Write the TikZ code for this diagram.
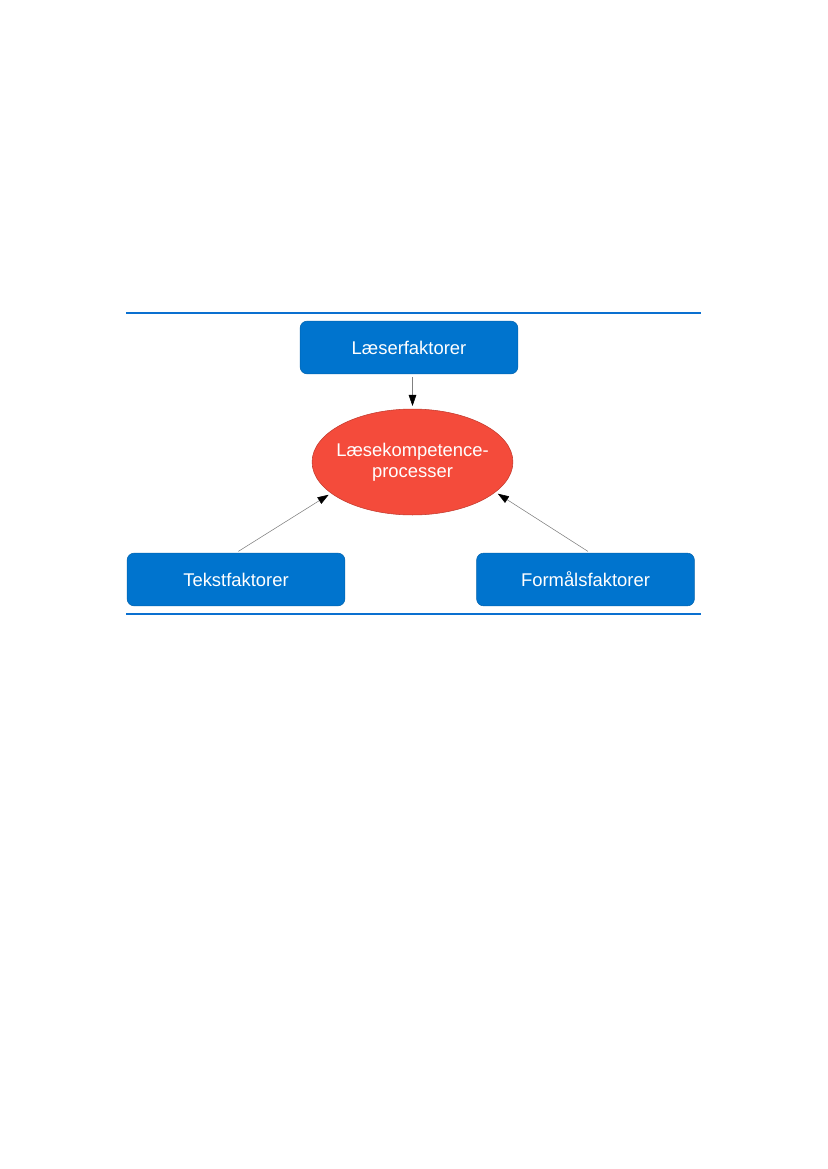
\documentclass[tikz,border=0pt]{standalone}
\usepackage{fontspec}
\setsansfont{Liberation Sans}
\usetikzlibrary{positioning,arrows.meta,shapes.geometric}
\definecolor{boxblue}{RGB}{0,116,206}
\definecolor{lineblue}{RGB}{10,112,208}
\definecolor{procred}{RGB}{244,75,59}

\begin{document}
\begin{tikzpicture}[x=0.2539mm,y=-0.2539mm,
  faktor/.style={draw=boxblue!85!black,line width=0.4pt,fill=boxblue,rounded corners=1.8mm,
    minimum width=55.3mm,minimum height=13.4mm,inner sep=0pt,text=white,
    font=\sffamily\fontsize{13.3}{15.5}\selectfont},
  proces/.style={ellipse,draw=procred!80!black,line width=0.4pt,fill=procred,
    minimum width=51mm,minimum height=26.9mm,inner ysep=0pt,inner xsep=-1.4mm,
    align=center,text=white,font=\sffamily\fontsize{13.3}{15.5}\selectfont},
  pil/.style={draw=gray,line width=0.4pt,-{Triangle[length=8pt,width=5.5pt,color=black]},
    shorten <=2pt,shorten >=2pt}]
\useasboundingbox (0,0) rectangle (827,1169);
% frame lines
\foreach \y in {313,614} {\draw[lineblue,line width=1.5pt] (126,\y) -- (701,\y);}
% nodes
\node[proces] (laese) at (412.5,462) {Læsekompetence-\\processer};
\node[faktor] (laeser) at (409,347.5) {Læserfaktorer};
\node[faktor] (tekst) at (236,579.5) {Tekstfaktorer};
\node[faktor] (formaal) at (585.5,579.5) {Formålsfaktorer};
% arrows
\draw[pil] (laese.north |- laeser.south) -- (laese.north);
\draw[pil] (tekst.north) -- (laese.201);
\draw[pil] ([xshift=1.2mm]formaal.north) -- (laese.-20);
\end{tikzpicture}
\end{document}
